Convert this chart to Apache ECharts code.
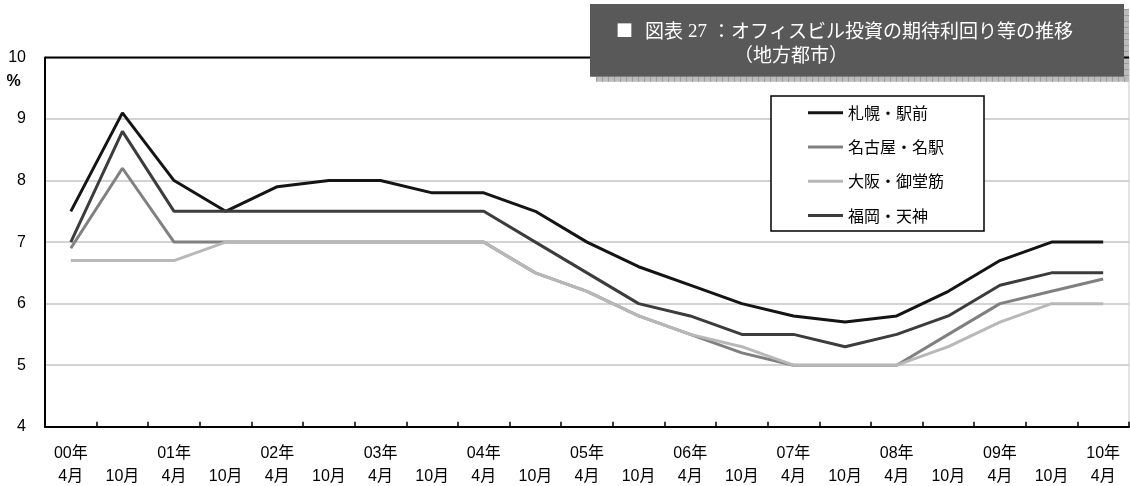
<!DOCTYPE html>
<html>
<head>
<meta charset="utf-8">
<script src="https://cdn.jsdelivr.net/npm/echarts@6/dist/echarts.min.js"></script>
<style>
  html, body { margin: 0; padding: 0; background: #ffffff; }
  #chart { width: 1130px; height: 486px; }
</style>
</head>
<body>
<div id="chart"></div>
<script>
// Half-yearly survey points, April 2000 – April 2010
const categories = ['00年4月','00年10月','01年4月','01年10月','02年4月','02年10月','03年4月','03年10月','04年4月','04年10月',
  '05年4月','05年10月','06年4月','06年10月','07年4月','07年10月','08年4月','08年10月','09年4月','09年10月','10年4月'];

// Expected cap rates (%) by regional office district
const sapporo = [7.5, 9.1, 8.0, 7.5, 7.9, 8.0, 8.0, 7.8, 7.8, 7.5, 7.0, 6.6, 6.3, 6.0, 5.8, 5.7, 5.8, 6.2, 6.7, 7.0, 7.0];
const nagoya  = [6.9, 8.2, 7.0, 7.0, 7.0, 7.0, 7.0, 7.0, 7.0, 6.5, 6.2, 5.8, 5.5, 5.2, 5.0, 5.0, 5.0, 5.5, 6.0, 6.2, 6.4];
const osaka   = [6.7, 6.7, 6.7, 7.0, 7.0, 7.0, 7.0, 7.0, 7.0, 6.5, 6.2, 5.8, 5.5, 5.3, 5.0, 5.0, 5.0, 5.3, 5.7, 6.0, 6.0];
const fukuoka = [7.0, 8.8, 7.5, 7.5, 7.5, 7.5, 7.5, 7.5, 7.5, 7.0, 6.5, 6.0, 5.8, 5.5, 5.5, 5.3, 5.5, 5.8, 6.3, 6.5, 6.5];

const seriesNames = ['札幌・駅前', '名古屋・名駅', '大阪・御堂筋', '福岡・天神'];
const seriesColors = ['#141414', '#808080', '#b8b8b8', '#3c3c3c'];
const seriesData = [sapporo, nagoya, osaka, fukuoka];

// Value axis range
const yMin = 4, yMax = 10, yStep = 1;

// Caption pieces
const titleMark = '■';
const titleLabel = '図表';
const titleNumber = '27';
const titleText = '：オフィスビル投資の期待利回り等の推移';
const titleSub = '（地方都市）';
const unitLabel = '%';

const FONT = '"Liberation Sans", "Noto Sans CJK JP", sans-serif';
const JFONT = '"Noto Sans CJK JP", sans-serif';

const chart = echarts.init(document.getElementById('chart'), null, { renderer: 'canvas' });

// x labels: year on the first line for April points, month on the second line
function xLabel(v) {
  const m = v.match(/^(\d+)年(\d+)月$/);
  return m[2] === '4' ? m[1] + '年\n' + m[2] + '月' : '\n' + m[2] + '月';
}

function captionText(str, x, y, font) {
  return {
    type: 'text', z: 5,
    style: { text: str, x: x, y: y, verticalAlign: 'middle', fill: '#ffffff', font: font }
  };
}

const option = {
  animation: false,
  backgroundColor: '#ffffff',
  grid: {
    left: 45, right: 1, top: 57.5, bottom: 59.3,
    outerBoundsMode: 'none',
    containLabel: false,
    show: true, borderColor: '#c8c8c8', borderWidth: 1, backgroundColor: 'transparent'
  },
  xAxis: {
    type: 'category',
    data: categories,
    boundaryGap: true,
    axisLine: { lineStyle: { color: '#000', width: 2 } },
    axisTick: { show: true, inside: true, length: 5, lineStyle: { color: '#000', width: 1.5 } },
    axisLabel: {
      interval: 0, margin: 15, color: '#000', fontSize: 16, lineHeight: 23.5,
      fontFamily: FONT, formatter: xLabel
    },
    splitLine: { show: false }
  },
  yAxis: {
    type: 'value',
    min: yMin, max: yMax, interval: yStep,
    axisLine: { show: true, lineStyle: { color: '#000', width: 2 } },
    axisTick: { show: false },
    axisLabel: { margin: 19, color: '#000', fontSize: 16, fontFamily: FONT },
    splitLine: { show: true, lineStyle: { color: '#c4c4c4', width: 1.5 } }
  },
  legend: {
    data: seriesNames,
    orient: 'vertical',
    left: 808, top: 104.7,
    padding: 0,
    itemGap: 18.3,
    itemWidth: 35, itemHeight: 3,
    icon: 'rect',
    textStyle: { fontSize: 16, lineHeight: 16, color: '#000', fontFamily: JFONT }
  },
  series: seriesNames.map((name, i) => ({
    name: name,
    type: 'line',
    data: seriesData[i],
    showSymbol: false,
    symbol: 'none',
    color: seriesColors[i],
    lineStyle: { color: seriesColors[i], width: 3 },
    z: 2 + i * 0.01
  })),
  graphic: [
    // frame line along the top of the plot
    { type: 'line', z: 2, shape: { x1: 45, y1: 57.5, x2: 1129, y2: 57.5 }, style: { stroke: '#000', lineWidth: 2 } },
    // hatched drop shadow of the caption panel
    { type: 'rect', z: 1, shape: { x: 596, y: 76.7, width: 533, height: 5 }, style: { fill: '#bcbcbc' } },
    { type: 'rect', z: 1, shape: { x: 1124, y: 9, width: 5, height: 72.7 }, style: { fill: '#bcbcbc' } },
    { type: 'line', z: 1.5, shape: { x1: 596, y1: 79.2, x2: 1129, y2: 79.2 }, style: { stroke: '#9c9c9c', lineWidth: 5, lineDash: [1, 5] } },
    { type: 'line', z: 1.5, shape: { x1: 1126.5, y1: 9, x2: 1126.5, y2: 77 }, style: { stroke: '#9c9c9c', lineWidth: 5, lineDash: [1, 5] } },
    // caption panel
    { type: 'rect', z: 3, shape: { x: 590, y: 4, width: 534, height: 72.7 }, style: { fill: '#595959' } },
    captionText(titleMark, 616, 31, '17px ' + JFONT),
    captionText(titleLabel, 645, 31, '19px ' + JFONT),
    captionText(titleNumber, 688, 32, '19px "Liberation Serif", serif'),
    captionText(titleText, 712, 31, '19px ' + JFONT),
    captionText(titleSub, 734, 55, '19px ' + JFONT),
    // legend frame
    { type: 'rect', z: 3, shape: { x: 771, y: 96, width: 213, height: 135 }, style: { fill: '#ffffff', stroke: '#000', lineWidth: 1.5 } },
    // unit under the top tick label
    { type: 'text', z: 5, style: { text: unitLabel, x: 13.5, y: 81.5, align: 'center', verticalAlign: 'middle', fill: '#000', font: 'bold 16px "Liberation Sans", sans-serif' } }
  ]
};

chart.setOption(option);
</script>
</body>
</html>
